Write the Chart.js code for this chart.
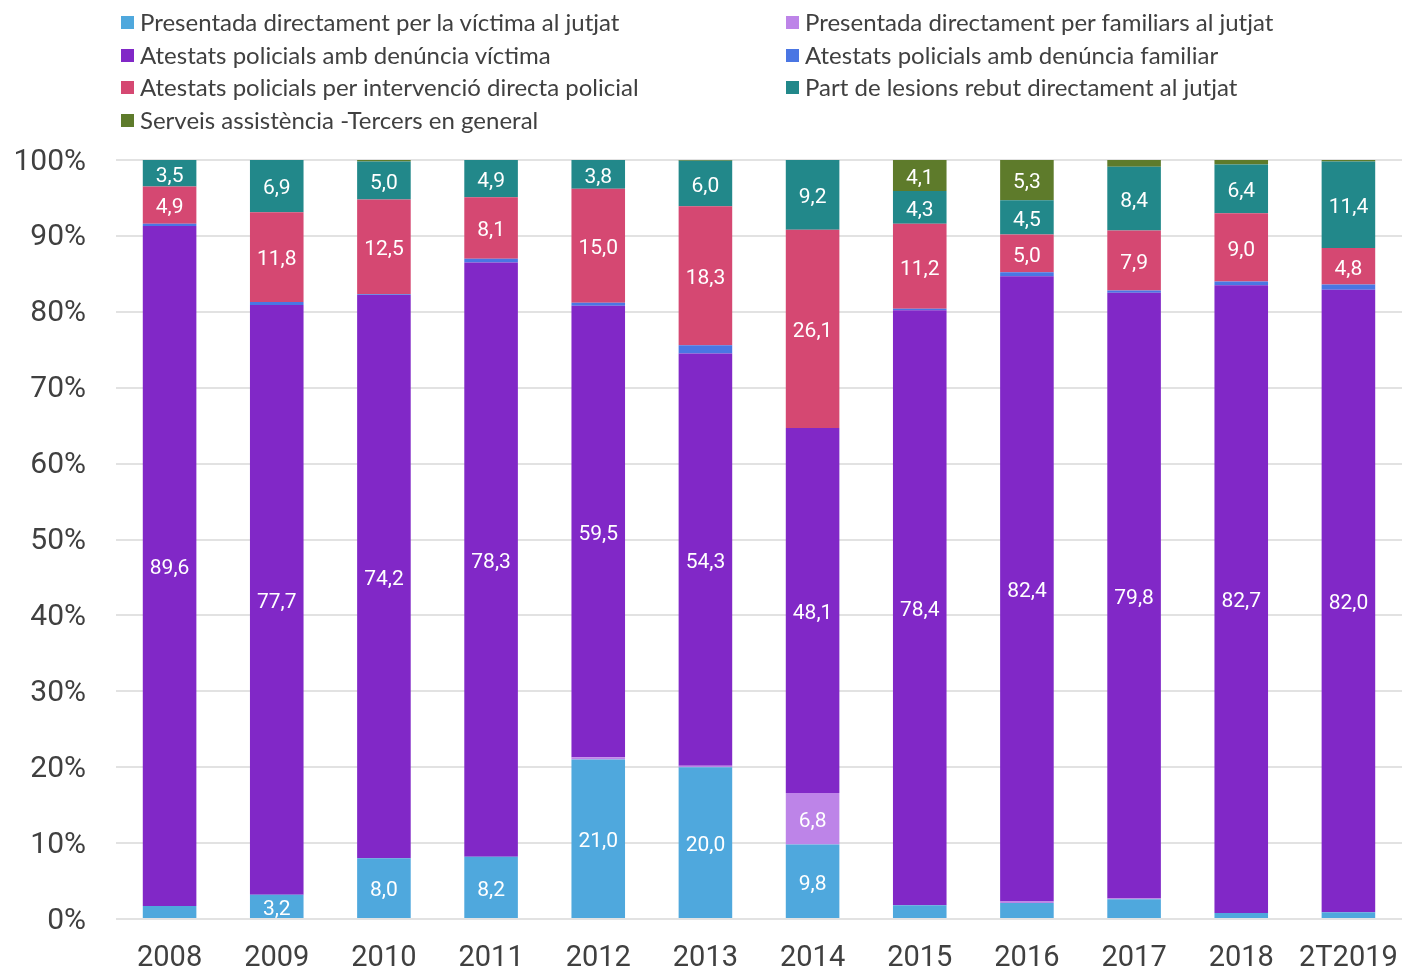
<!DOCTYPE html>
<html>
<head>
<meta charset="utf-8">
<script src="https://cdn.jsdelivr.net/npm/chart.js@4.4.1/dist/chart.umd.min.js"></script>
<style>
  html, body { margin: 0; padding: 0; background: #fff; }
  #wrap { position: relative; width: 1402px; height: 968px; }
  #chart { position: absolute; left: 0; top: 0; }
  .leg { position: absolute; font: 24px Lato, sans-serif; color: #404040; white-space: nowrap; line-height: 1; }
  .leg i { position: absolute; left: -19px; top: 6px; width: 13px; height: 13px; }
</style>
</head>
<body>
<div id="wrap">
  <canvas id="chart" width="1402" height="968"></canvas>
  <div id="legend"></div>
</div>
<script>
// categories
const years = ["2008", "2009", "2010", "2011", "2012", "2013", "2014", "2015", "2016", "2017", "2018", "2T2019"]

// series (% of total per year)
const victimaJutjat    = [1.7, 3.2, 8.0, 8.2, 21.0, 20.0, 9.8, 1.8, 2.1, 2.6, 0.8, 0.9]
const familiarsJutjat  = [0, 0, 0, 0, 0.3, 0.2, 6.8, 0, 0.2, 0.1, 0, 0]
const atestatsVictima  = [89.6, 77.7, 74.2, 78.3, 59.5, 54.3, 48.1, 78.4, 82.4, 79.8, 82.7, 82.0]
const atestatsFamiliar = [0.3, 0.4, 0.1, 0.5, 0.4, 1.1, 0, 0.2, 0.5, 0.3, 0.5, 0.7]
const intervencio      = [4.9, 11.8, 12.5, 8.1, 15.0, 18.3, 26.1, 11.2, 5.0, 7.9, 9.0, 4.8]
const partLesions      = [3.5, 6.9, 5.0, 4.9, 3.8, 6.0, 9.2, 4.3, 4.5, 8.4, 6.4, 11.4]
const serveis          = [0, 0, 0.2, 0, 0, 0.1, 0, 4.1, 5.3, 0.9, 0.6, 0.2]

const yTicks = [0, 10, 20, 30, 40, 50, 60, 70, 80, 90, 100]

const series = [
  { label: "Presentada directament per la víctima al jutjat", data: victimaJutjat, color: "#4fa8dd" },
  { label: "Presentada directament per familiars al jutjat", data: familiarsJutjat, color: "#bd84e8" },
  { label: "Atestats policials amb denúncia víctima", data: atestatsVictima, color: "#8128c7" },
  { label: "Atestats policials amb denúncia familiar", data: atestatsFamiliar, color: "#4a76e3" },
  { label: "Atestats policials per intervenció directa policial", data: intervencio, color: "#d54872" },
  { label: "Part de lesions rebut directament al jutjat", data: partLesions, color: "#22888a" },
  { label: "Serveis assistència -Tercers en general", data: serveis, color: "#5e7b2b" }
]

// legend: two columns, row-major order
const legendEl = document.getElementById("legend")
series.forEach((s, i) => {
  const d = document.createElement("div")
  d.className = "leg"
  d.style.left = (i % 2 === 0 ? 140 : 805) + "px"
  d.style.top = (10 + Math.floor(i / 2) * 32.7) + "px"
  d.innerHTML = '<i style="background:' + s.color + '"></i>' + s.label
  legendEl.appendChild(d)
})

const valueLabels = {
  id: "valueLabels",
  afterDatasetsDraw(chart) {
    const ctx = chart.ctx
    ctx.save()
    ctx.font = "21px Roboto"
    ctx.fillStyle = "#ffffff"
    ctx.textAlign = "center"
    ctx.textBaseline = "middle"
    chart.data.datasets.forEach((ds, i) => {
      chart.getDatasetMeta(i).data.forEach((bar, j) => {
        const v = ds.data[j]
        if (v < 3) return
        ctx.fillText(v.toFixed(1).replace(".", ","), bar.x, (bar.y + bar.base) / 2 + 3)
      })
    })
    ctx.restore()
  }
}

new Chart(document.getElementById("chart"), {
  type: "bar",
  data: {
    labels: years,
    datasets: series.map(s => ({
      label: s.label,
      data: s.data,
      backgroundColor: s.color,
      borderWidth: 0,
      categoryPercentage: 1,
      barPercentage: 0.5
    }))
  },
  options: {
    responsive: false,
    animation: false,
    layout: { padding: { top: 160, left: 0, right: 0, bottom: 0 } },
    plugins: { legend: { display: false }, tooltip: { enabled: false } },
    scales: {
      x: {
        stacked: true,
        grid: { display: false, drawTicks: false },
        border: { display: false },
        ticks: { font: { family: "Roboto", size: 29 }, color: "#404040", padding: 22, maxRotation: 0 },
        afterFit(scale) {
          scale.height = 49
          scale.paddingLeft = 0
          scale.paddingRight = 0
        }
      },
      y: {
        stacked: true,
        min: 0,
        max: 100,
        afterBuildTicks(scale) { scale.ticks = yTicks.map(v => ({ value: v })) },
        grid: { color: "#e2e2e2", lineWidth: 2, drawTicks: false },
        border: { display: false },
        ticks: {
          font: { family: "Roboto", size: 30 },
          color: "#404040",
          padding: 30,
          labelOffset: 2,
          callback: v => v + "%"
        },
        afterFit(scale) { scale.width = 116 }
      }
    }
  },
  plugins: [valueLabels]
})
</script>
</body>
</html>
